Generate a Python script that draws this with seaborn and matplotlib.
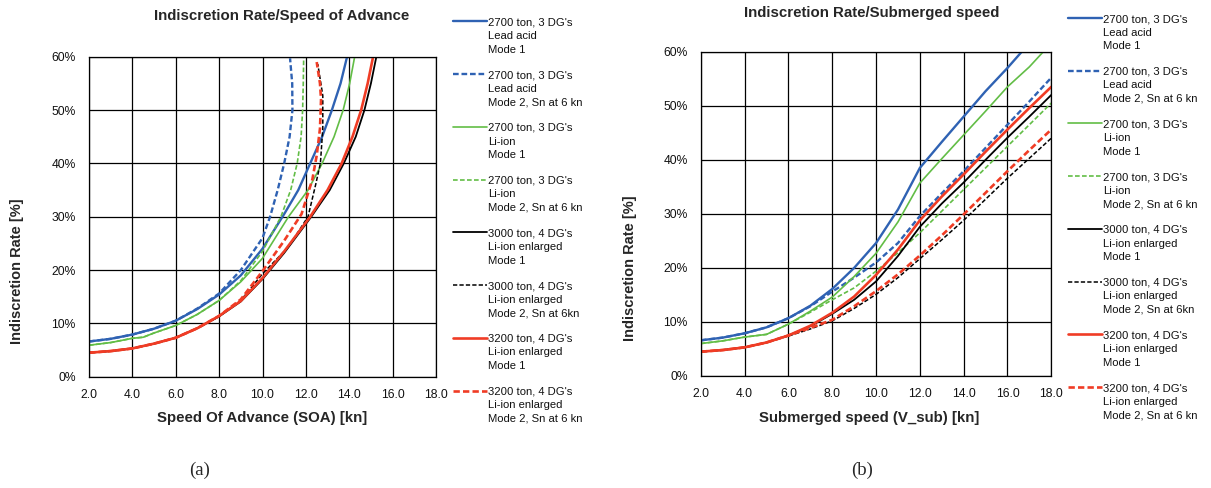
import matplotlib
matplotlib.use("Agg")
import matplotlib.pyplot as plt
from matplotlib.ticker import FuncFormatter, MultipleLocator
import seaborn as sns

# ---- series: speed [kn] and indiscretion rate [%] ----
# (a) Speed of advance
soa_la_m1_x = [2, 3, 4, 5, 6, 7, 8, 9, 10, 11, 11.65, 12.2, 12.75, 13.2, 13.6, 13.9]
soa_la_m1_y = [6.6, 7.1, 7.9, 9.0, 10.5, 12.7, 15.4, 19, 24, 30.5, 35, 40, 45, 50, 55, 60]
soa_la_m2_x = [2, 3, 4, 5, 6, 7, 8, 9, 10, 10.35, 10.7, 11.0, 11.25, 11.38, 11.37, 11.27]
soa_la_m2_y = [6.6, 7.1, 7.9, 9.0, 10.5, 12.8, 15.6, 20, 26, 30, 35, 40, 45, 50, 55, 59.7]
soa_li_m1_x = [2, 3, 4, 4.5, 5, 6, 7, 8, 9, 10, 11.2, 12.1, 12.75, 13.3, 13.72, 14.02, 14.25]
soa_li_m1_y = [5.9, 6.4, 7.2, 7.4, 8.2, 9.6, 11.7, 14.3, 17.8, 22.2, 30, 35, 40, 45, 50, 55, 60]
soa_li_m2_x = [2, 3, 4, 4.5, 5, 6, 7, 8, 9, 10, 10.85, 11.3, 11.6, 11.78, 11.85, 11.88, 11.9]
soa_li_m2_y = [5.9, 6.4, 7.2, 7.4, 8.2, 9.6, 11.7, 14.3, 18, 23.5, 30, 35, 40, 45, 50, 55, 60]
soa_3000_m1_x = [2, 3, 4, 5, 6, 7, 8, 9, 10, 11, 12.25, 13.1, 13.75, 14.3, 14.7, 15.0, 15.25]
soa_3000_m1_y = [4.5, 4.8, 5.3, 6.2, 7.3, 9.1, 11.3, 14.1, 18.3, 23.2, 30, 35, 40, 45, 50, 55, 60]
soa_3000_m2_x = [2, 3, 4, 5, 6, 7, 8, 9, 10, 11, 11.25, 12.1, 12.45, 12.67, 12.78, 12.78, 12.55]
soa_3000_m2_y = [4.5, 4.8, 5.3, 6.2, 7.3, 9.1, 11.3, 14.3, 19.3, 23.5, 24.7, 30, 36, 40, 46.5, 52.7, 58.6]
soa_3200_m1_x = [2, 3, 4, 5, 6, 7, 8, 9, 10, 11, 12.2, 13.0, 13.65, 14.15, 14.55, 14.85, 15.1]
soa_3200_m1_y = [4.5, 4.8, 5.3, 6.2, 7.3, 9.1, 11.4, 14.2, 18.5, 23.5, 30, 35, 40, 45, 50, 55, 60]
soa_3200_m2_x = [2, 3, 4, 5, 6, 7, 8, 9, 10, 11, 11.8, 12.3, 12.5, 12.65, 12.7, 12.65, 12.5]
soa_3200_m2_y = [4.5, 4.8, 5.3, 6.2, 7.3, 9.1, 11.4, 14.5, 19.8, 25.5, 30.5, 37, 41.5, 46.5, 52, 55, 59]

# (b) Submerged speed
vsub = [2, 3, 4, 5, 6, 7, 8, 9, 10, 11, 12, 13, 14, 15, 16, 17, 18]
sub_la_m1 = [6.6, 7.1, 7.9, 9.0, 10.7, 13.0, 16.1, 20.0, 24.6, 30.8, 38.5, 43.3, 48.0, 52.7, 57.0, 61.6, 66.0]
sub_la_m2 = [6.6, 7.1, 7.9, 9.0, 10.7, 12.9, 15.6, 18.2, 21.0, 24.6, 29.6, 33.8, 37.9, 42.2, 46.5, 50.8, 55.2]
sub_li_m1 = [6.0, 6.5, 7.2, 7.7, 9.6, 12.0, 14.6, 18.4, 22.7, 28.5, 35.7, 40.2, 44.6, 49.0, 53.5, 57.2, 61.6]
sub_li_m2 = [6.0, 6.5, 7.2, 7.7, 9.6, 11.8, 14.1, 16.3, 19.4, 22.8, 26.5, 30.5, 34.5, 38.5, 42.5, 46.5, 50.5]
sub_3000_m1 = [4.5, 4.8, 5.3, 6.2, 7.5, 9.2, 11.5, 14.1, 17.5, 22.2, 27.6, 31.9, 35.8, 40.0, 44.1, 48.0, 52.0]
sub_3000_m2 = [4.5, 4.8, 5.3, 6.2, 7.4, 8.7, 10.2, 12.5, 15.1, 18.2, 21.7, 25.2, 28.8, 32.7, 36.6, 40.3, 44.0]
sub_3200_m1 = [4.5, 4.8, 5.3, 6.2, 7.5, 9.3, 11.7, 14.7, 18.7, 23.4, 28.8, 33.2, 37.3, 41.5, 45.6, 49.6, 53.5]
sub_3200_m2 = [4.5, 4.8, 5.3, 6.2, 7.5, 8.9, 10.4, 12.9, 15.7, 18.8, 22.3, 26.0, 29.9, 33.9, 37.9, 41.8, 45.6]

labels = [
    "2700 ton, 3 DG's\nLead acid\nMode 1",
    "2700 ton, 3 DG's\nLead acid\nMode 2, Sn at 6 kn",
    "2700 ton, 3 DG's\nLi-ion\nMode 1",
    "2700 ton, 3 DG's\nLi-ion\nMode 2, Sn at 6 kn",
    "3000 ton, 4 DG's\nLi-ion enlarged\nMode 1",
    "3000 ton, 4 DG's\nLi-ion enlarged\nMode 2, Sn at 6kn",
    "3200 ton, 4 DG's\nLi-ion enlarged\nMode 1",
    "3200 ton, 4 DG's\nLi-ion enlarged\nMode 2, Sn at 6 kn",
]

BLUE = "#2f62b3"
GREEN = "#62bd46"
BLACK = "#000000"
RED = "#f03c25"
THICK_DASH = (0, (2.4, 1.2))
THIN_DASH = (0, (2.8, 1.4))
styles = [
    dict(color=BLUE, linewidth=1.7, linestyle="-"),
    dict(color=BLUE, linewidth=1.7, linestyle=THICK_DASH),
    dict(color=GREEN, linewidth=1.2, linestyle="-"),
    dict(color=GREEN, linewidth=1.2, linestyle=THIN_DASH),
    dict(color=BLACK, linewidth=1.3, linestyle="-"),
    dict(color=BLACK, linewidth=1.1, linestyle=THIN_DASH),
    dict(color=RED, linewidth=1.9, linestyle="-"),
    dict(color=RED, linewidth=1.9, linestyle=THICK_DASH),
]

soa_series = [
    (soa_la_m1_x, soa_la_m1_y), (soa_la_m2_x, soa_la_m2_y),
    (soa_li_m1_x, soa_li_m1_y), (soa_li_m2_x, soa_li_m2_y),
    (soa_3000_m1_x, soa_3000_m1_y), (soa_3000_m2_x, soa_3000_m2_y),
    (soa_3200_m1_x, soa_3200_m1_y), (soa_3200_m2_x, soa_3200_m2_y),
]
sub_series = [
    (vsub, sub_la_m1), (vsub, sub_la_m2), (vsub, sub_li_m1), (vsub, sub_li_m2),
    (vsub, sub_3000_m1), (vsub, sub_3000_m2), (vsub, sub_3200_m1), (vsub, sub_3200_m2),
]

sns.set_style("white")
plt.rcParams["font.family"] = ["Liberation Sans", "DejaVu Sans"]

W, H = 1211, 488
fig = plt.figure(figsize=(W / 100, H / 100), dpi=100)


def px_axes(x0, x1, y0, y1):
    return fig.add_axes([x0 / W, 1 - y1 / H, (x1 - x0) / W, (y1 - y0) / H])


ax_a = px_axes(89, 436, 56.7, 376.7)
ax_b = px_axes(700.8, 1051.3, 51.7, 376)


def style_axes(ax):
    ax.set_xlim(2, 18)
    ax.set_ylim(0, 60)
    ax.xaxis.set_major_locator(MultipleLocator(2))
    ax.yaxis.set_major_locator(MultipleLocator(10))
    ax.xaxis.set_major_formatter(FuncFormatter(lambda v, p: f"{v:.1f}"))
    ax.yaxis.set_major_formatter(FuncFormatter(lambda v, p: f"{v:.0f}%"))
    ax.grid(True, color="black", linewidth=0.9)
    ax.set_axisbelow(True)
    for sp in ax.spines.values():
        sp.set_color("black")
        sp.set_linewidth(0.9)
    ax.tick_params(axis="both", direction="out", length=3.5, width=0.9,
                   color="black", labelsize=8.7, labelcolor="#111111")
    ax.tick_params(axis="y", pad=6)
    ax.tick_params(axis="x", pad=5)
    ax.set_xlabel("")
    ax.set_ylabel("")


def draw(ax, series, legend_anchor):
    for (xs, ys), st, lab in zip(series, styles, labels):
        sns.lineplot(x=xs, y=ys, ax=ax, sort=False, estimator=None,
                     label=lab, **st)
    style_axes(ax)
    leg = ax.legend(loc="upper left", bbox_to_anchor=legend_anchor,
                    bbox_transform=fig.transFigure, frameon=False,
                    borderpad=0, borderaxespad=0, fontsize=8.1,
                    handlelength=3.0, handletextpad=0.15, labelspacing=1.38)
    for col in leg._legend_handle_box.get_children():
        for row in col.get_children():
            row.align = "top"
    for t in leg.get_texts():
        t.set_color("#111111")
        t.set_linespacing(1.45)


draw(ax_a, soa_series, (453 / W, 1 - 17.5 / H))
draw(ax_b, sub_series, (1068 / W, 1 - 14 / H))

# titles and axis labels
fig.text(282 / W, 1 - 16 / H, "Indiscretion Rate/Speed of Advance",
         ha="center", va="center", fontsize=10.8, fontweight="bold")
fig.text(872 / W, 1 - 13 / H, "Indiscretion Rate/Submerged speed",
         ha="center", va="center", fontsize=10.8, fontweight="bold")
fig.text(262 / W, 1 - 418 / H, "Speed Of Advance (SOA) [kn]",
         ha="center", va="center", fontsize=10.8, fontweight="bold")
fig.text(869 / W, 1 - 418 / H, "Submerged speed (V_sub) [kn]",
         ha="center", va="center", fontsize=10.8, fontweight="bold")
fig.text(17 / W, 1 - 271 / H, "Indiscretion Rate [%]", rotation=90,
         ha="center", va="center", fontsize=10.5, fontweight="bold")
fig.text(630 / W, 1 - 268 / H, "Indiscretion Rate [%]", rotation=90,
         ha="center", va="center", fontsize=10.5, fontweight="bold")

# panel captions
fig.text(200 / W, 1 - 470 / H, "(a)", ha="center", va="center",
         fontsize=13.5, family=["Liberation Serif", "DejaVu Serif"])
fig.text(862 / W, 1 - 470 / H, "(b)", ha="center", va="center",
         fontsize=13.5, family=["Liberation Serif", "DejaVu Serif"])

fig.savefig("out.png", dpi=100)
